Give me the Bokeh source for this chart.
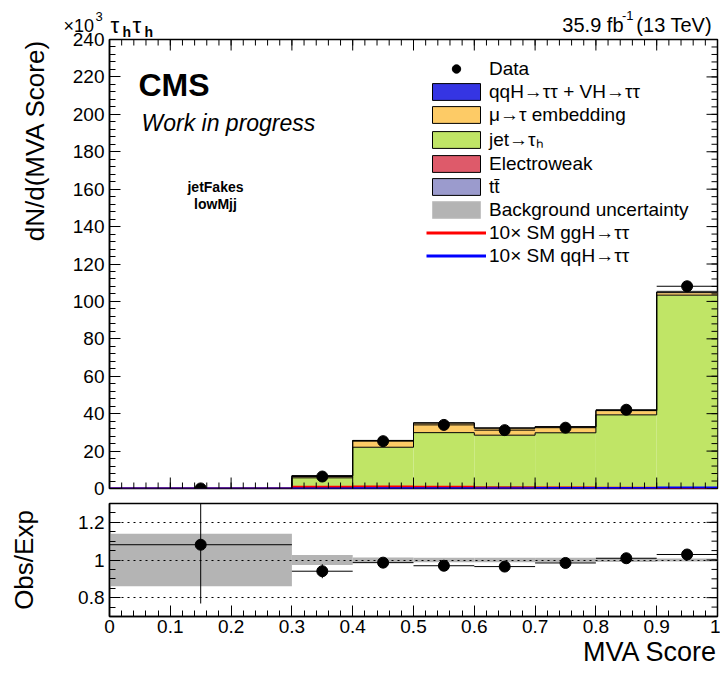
import numpy as np
from bokeh.plotting import figure
from bokeh.layouts import column
from bokeh.models import Range1d, FixedTicker, Legend, LegendItem, Label, Title
from bokeh.embed import file_html
from bokeh.resources import INLINE

# ---------------------------------------------------------------- data
# MVA score binning
bin_edges = [0.0, 0.3, 0.4, 0.5, 0.6, 0.7, 0.8, 0.9, 1.0]

# Expected dN/d(MVA score) per process, in units of 10^3
ttbar       = [0.0005, 0.05, 0.15, 0.15, 0.10, 0.08, 0.06, 0.05]
electroweak = [0.0015, 0.50, 0.90, 0.80, 0.60, 0.50, 0.40, 0.40]
jet_fakes   = [0.030, 5.15, 21.00, 28.90, 27.80, 29.20, 38.90, 102.90]
embedding   = [0.005, 1.10, 3.60, 5.20, 3.80, 3.20, 2.30, 1.60]
qqh_vh      = [0.000, 0.005, 0.01, 0.02, 0.03, 0.04, 0.05, 0.08]

# Relative background uncertainty per bin
bkg_unc_rel = [0.14, 0.027, 0.013, 0.012, 0.012, 0.012, 0.010, 0.008]

# Signal templates scaled by 10, units of 10^3
ggh_x10 = [0.0, 0.9, 1.1, 0.9, 0.6, 0.5, 0.4, 0.3]
qqh_x10 = [0.0, 0.05, 0.10, 0.15, 0.20, 0.25, 0.30, 0.50]

# Observed event counts per bin
data_counts = [12, 640, 2530, 3400, 3120, 3250, 4210, 10810]

# Axis ticks
x_major = [0.0, 0.1, 0.2, 0.3, 0.4, 0.5, 0.6, 0.7, 0.8, 0.9, 1.0]
x_minor = [round(0.02 * i, 2) for i in range(51)]
x_label_overrides = {0: "0", 1: "1"}
y_major = [0, 20, 40, 60, 80, 100, 120, 140, 160, 180, 200, 220, 240]
y_minor = list(range(0, 241, 4))
ratio_major = [0.8, 1.0, 1.2]
ratio_minor = [round(0.7 + 0.05 * i, 2) for i in range(13)]
ratio_label_overrides = {1: "1"}

# ---------------------------------------------------------------- derived
edges = np.array(bin_edges)
left, right = edges[:-1], edges[1:]
bw = right - left
center = 0.5 * (left + right)
counts = np.array(data_counts, dtype=float)
data = counts / bw / 1000.0
data_err = np.sqrt(counts) / bw / 1000.0

layers = [
    ("tt\u0304", ttbar, "#9b9bcd"),
    ("Electroweak", electroweak, "#de5a6a"),
    ("jet\u2192\u03c4\u2095", jet_fakes, "#c0e566"),
    ("\u03bc\u2192\u03c4 embedding", embedding, "#fdcb66"),
    ("qqH\u2192\u03c4\u03c4 + VH\u2192\u03c4\u03c4", qqh_vh, "#3535e3"),
]

FONT = "Liberation Sans"
FL, FR = 109, 717          # frame left / right (px)
HEAD = 38                  # height of the header strip
OVERLAP = 10               # the main panel's (transparent) top border slides under the header
MAIN_TOP = HEAD - OVERLAP  # page y where the main figure starts
MT, MB = 39, 488           # main frame top / bottom (px, page)
MAIN_H = 500 - MAIN_TOP
RT, RB = 503, 616          # ratio frame top / bottom (px, page)
YMAX = 240
MAJ, MIN = 11, 6           # tick lengths (px)


def dx(px):
    return (px - FL) / (FR - FL)


def dy(py):
    return (MB - py) / (MB - MT) * YMAX


def steps(vals):
    v = np.asarray(vals, dtype=float)
    return np.append(v, v[-1])


def style_axis(ax, size="19px", standoff=5):
    ax.axis_line_color = "black"
    ax.axis_line_width = 1.5
    ax.major_tick_line_color = "black"
    ax.minor_tick_line_color = "black"
    ax.major_tick_in = MAJ
    ax.major_tick_out = 0
    ax.minor_tick_in = MIN
    ax.minor_tick_out = 0
    ax.major_label_text_font = FONT
    ax.major_label_text_color = "black"
    ax.major_label_text_font_size = size
    ax.major_label_standoff = standoff


def edge_ticks(fig, xs, ys, length, vertical):
    # tick marks on a frame edge: dashes centred on the edge, the outer half is clipped
    fig.scatter(x=xs, y=ys, marker="dash", size=2 * length, angle=np.pi / 2 if vertical else 0,
                line_color="black", line_width=1, fill_color=None)


x_ticker = FixedTicker(ticks=x_major, minor_ticks=x_minor)
y_ticker = FixedTicker(ticks=y_major, minor_ticks=y_minor)
r_ticker = FixedTicker(ticks=ratio_major, minor_ticks=ratio_minor)

# ---------------------------------------------------------------- header strip
h = figure(width=720, height=HEAD, x_range=Range1d(0, 720), y_range=Range1d(HEAD, 0),
           x_axis_type=None, y_axis_type=None, output_backend="svg", toolbar_location=None,
           min_border=0, outline_line_color=None)
h.frame_align = False
h.margin = (0, 0, -OVERLAP, 0)
h.grid.visible = False
head_texts = [
    dict(x=63, y=25, text="\u00d710", text_font_size="18px"),
    dict(x=95, y=16, text="3", text_font_size="13px"),
    dict(x=110, y=25, text="\u03c4", text_font_size="22px"),
    dict(x=122, y=31, text="h", text_font_size="14px", text_font_style="bold"),
    dict(x=132, y=25, text="\u03c4", text_font_size="22px"),
    dict(x=144, y=31, text="h", text_font_size="14px", text_font_style="bold"),
    dict(x=717, y=24, text=" (13 TeV)", text_font_size="20px", text_align="right"),
    dict(x=633, y=15, text="-1", text_font_size="13px", text_align="right"),
    dict(x=623, y=24, text="35.9 fb", text_font_size="20px", text_align="right"),
]
for t in head_texts:
    kw = dict(text_font=FONT, text_color="black", text_baseline="alphabetic")
    kw.update(t)
    h.add_layout(Label(**kw))

# ---------------------------------------------------------------- main panel
p = figure(width=720, height=MAIN_H, x_range=Range1d(0, 1), y_range=Range1d(0, YMAX),
           output_backend="svg", toolbar_location=None,
           min_border_left=FL, min_border_right=720 - FR,
           min_border_top=MT - MAIN_TOP, min_border_bottom=500 - MB)
p.border_fill_alpha = 0
p.xgrid.visible = False
p.ygrid.visible = False
p.xaxis.visible = False
p.outline_line_color = "black"
p.outline_line_width = 1.5

bottom = np.zeros(len(left))
levels = []
for name, vals, color in layers:
    top = bottom + np.array(vals)
    p.quad(left=left, right=right, bottom=bottom, top=top, fill_color=color, line_color=None)
    levels.append(top.copy())
    bottom = top
total = bottom
unc = np.array(bkg_unc_rel)

p.quad(left=left, right=right, bottom=total * (1 - unc), top=total * (1 + unc),
       fill_color="#7a7a7a", fill_alpha=0.55, line_color=None)

for lvl in levels:
    p.step(x=edges, y=steps(lvl), mode="after", line_color="black", line_width=1)

p.step(x=edges, y=steps(ggh_x10), mode="after", line_color="#ff0000", line_width=2)
p.step(x=edges, y=steps(qqh_x10), mode="after", line_color="#0000ff", line_width=2)

p.segment(x0=center, x1=center, y0=data - data_err, y1=data + data_err, line_color="black", line_width=1)
p.segment(x0=left, x1=right, y0=data, y1=data, line_color="black", line_width=1)
p.scatter(x=center, y=data, size=11, marker="circle", fill_color="black", line_color="black")

# ticks on the bottom, top and right edges of the main frame
edge_ticks(p, x_major, [0] * len(x_major), MAJ, True)
edge_ticks(p, x_minor, [0] * len(x_minor), MIN, True)
edge_ticks(p, x_major, [YMAX] * len(x_major), MAJ, True)
edge_ticks(p, x_minor, [YMAX] * len(x_minor), MIN, True)
edge_ticks(p, [1] * len(y_major), y_major, MAJ, False)
edge_ticks(p, [1] * len(y_minor), y_minor, MIN, False)

# legend swatches (kept outside the visible x range)
off_x = [-1.0, -0.5]
leg_data = p.scatter(x=off_x[:1], y=[1], marker="circle", fill_color="black", line_color="black")
leg_items = [LegendItem(label="Data", renderers=[leg_data])]
for name, vals, color in reversed(layers):
    r_ = p.quad(left=off_x[:1], right=off_x[1:], bottom=[0], top=[1],
                fill_color=color, line_color="black", line_width=1)
    leg_items.append(LegendItem(label=name, renderers=[r_]))
r_unc = p.quad(left=off_x[:1], right=off_x[1:], bottom=[0], top=[1],
               fill_color="#b4b4b4", line_color="#c4c4c4")
leg_items.append(LegendItem(label="Background uncertainty", renderers=[r_unc]))
r_ggh = p.line(x=off_x, y=[0, 0], line_color="#ff0000", line_width=3)
leg_items.append(LegendItem(label="10\u00d7 SM ggH\u2192\u03c4\u03c4", renderers=[r_ggh]))
r_qqh = p.line(x=off_x, y=[0, 0], line_color="#0000ff", line_width=3)
leg_items.append(LegendItem(label="10\u00d7 SM qqH\u2192\u03c4\u03c4", renderers=[r_qqh]))

legend = Legend(items=leg_items, location=(426 - FL, MB - 267),
                label_text_font=FONT, label_text_font_size="19px", label_text_color="black",
                glyph_width=60, glyph_height=21, label_height=23, label_standoff=3,
                spacing=0, padding=0, margin=0,
                border_line_color=None, background_fill_alpha=0)
p.add_layout(legend)

style_axis(p.yaxis[0])
p.yaxis[0].ticker = y_ticker

p.add_layout(Title(text="dN/d(MVA Score)", align="right", vertical_align="top", text_font=FONT,
                   text_font_size="26px", text_font_style="normal", text_color="black",
                   standoff=35), "left")

texts = [
    dict(x=dx(138), y=dy(84), text="CMS", text_font_size="32px", text_font_style="bold"),
    dict(x=dx(141), y=dy(122), text="Work in progress", text_font_size="23px", text_font_style="italic"),
    dict(x=dx(215), y=dy(186), text="jetFakes", text_font_size="14px", text_font_style="bold", text_align="center"),
    dict(x=dx(215), y=dy(203), text="lowMjj", text_font_size="14px", text_font_style="bold", text_align="center"),
]
for t in texts:
    kw = dict(text_font=FONT, text_color="black", text_baseline="alphabetic")
    kw.update(t)
    p.add_layout(Label(**kw))

# ---------------------------------------------------------------- ratio panel
RATIO_H = 678 - 500
r = figure(width=720, height=RATIO_H, x_range=Range1d(0, 1), y_range=Range1d(0.7, 1.3),
           output_backend="svg", toolbar_location=None,
           min_border_left=FL, min_border_right=720 - FR, min_border_top=RT - 500,
           min_border_bottom=678 - RB)
r.xgrid.visible = False
r.ygrid.ticker = FixedTicker(ticks=ratio_major)
r.ygrid.grid_line_color = "black"
r.ygrid.grid_line_dash = "dotted"
r.ygrid.grid_line_width = 1
r.ygrid.level = "overlay"
r.outline_line_color = "black"
r.outline_line_width = 1.5

ratio = data / total
ratio_err = data_err / total
r.quad(left=left, right=right, bottom=1 - unc, top=1 + unc, fill_color="#b4b4b4", line_color=None)
r.segment(x0=left, x1=right, y0=ratio, y1=ratio, line_color="black", line_width=1)
r.segment(x0=center, x1=center, y0=ratio - ratio_err, y1=ratio + ratio_err, line_color="black", line_width=1)
r.scatter(x=center, y=ratio, size=11, marker="circle", fill_color="black", line_color="black")

edge_ticks(r, [1] * len(ratio_major), ratio_major, MAJ, False)
edge_ticks(r, [1] * len(ratio_minor), ratio_minor, MIN, False)

style_axis(r.xaxis[0], standoff=3)
r.xaxis[0].ticker = x_ticker
r.xaxis[0].major_label_overrides = x_label_overrides
style_axis(r.yaxis[0])
r.yaxis[0].ticker = r_ticker
r.yaxis[0].major_label_overrides = ratio_label_overrides
r.yaxis[0].axis_label = "Obs/Exp"
r.yaxis[0].axis_label_text_font = FONT
r.yaxis[0].axis_label_text_font_size = "26px"
r.yaxis[0].axis_label_text_font_style = "normal"
r.yaxis[0].axis_label_text_color = "black"
r.yaxis[0].axis_label_standoff = 36
r.add_layout(Title(text="MVA Score", align="right", vertical_align="top", text_font=FONT,
                   text_font_size="27px", text_font_style="normal", text_color="black",
                   standoff=2), "below")

layout = column(h, p, r, spacing=0)
open("out.html", "w").write(file_html(layout, INLINE))
